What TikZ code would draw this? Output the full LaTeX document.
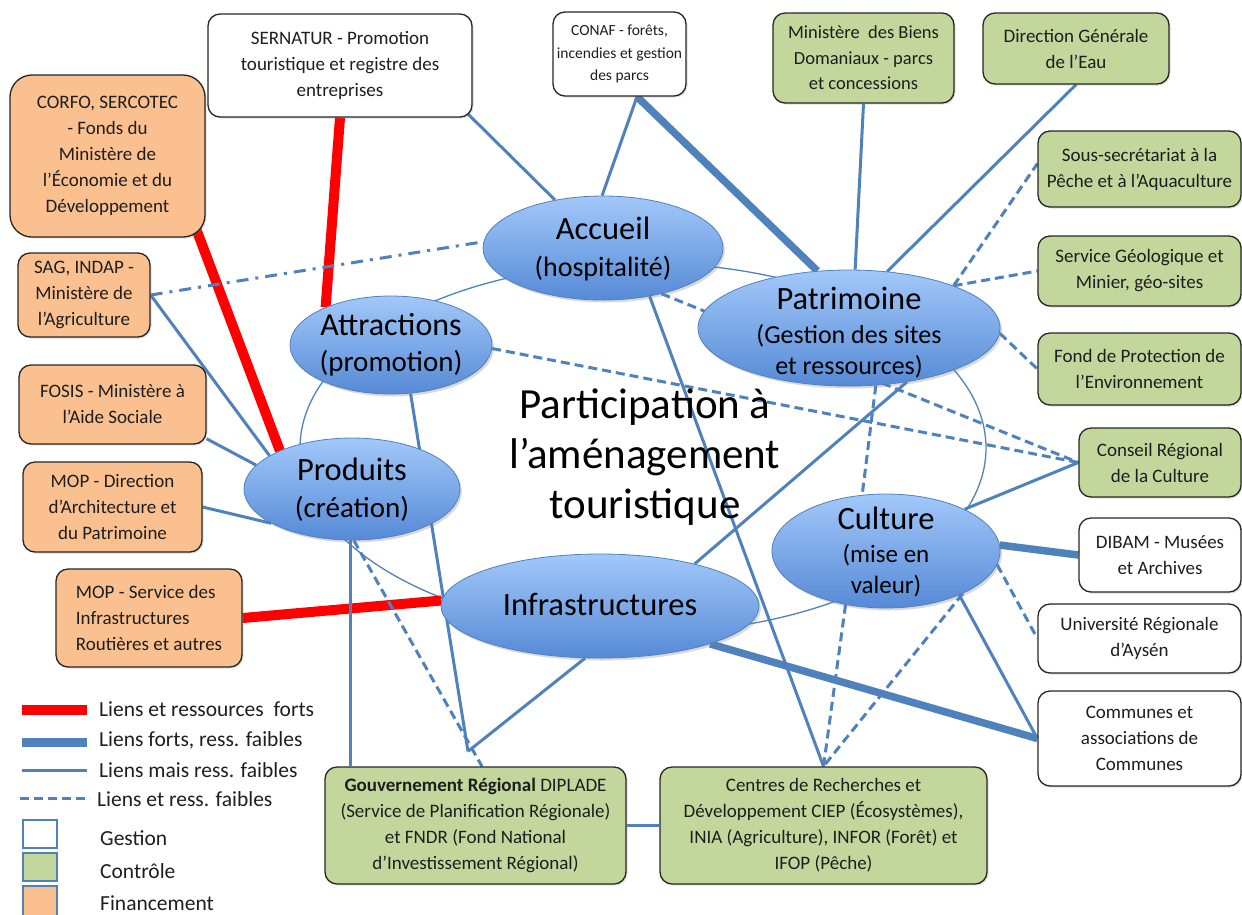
\documentclass[tikz,border=0pt]{standalone}
\usepackage{fontspec}
\setmainfont{Carlito}
\usetikzlibrary{shapes.geometric,shadows,calc}
\pgfdeclarelayer{bg}
\pgfsetlayers{bg,main}
\definecolor{lblue}{RGB}{79,129,189}
\definecolor{orangef}{RGB}{250,192,143}
\definecolor{greenf}{RGB}{195,214,155}
\definecolor{bordc}{RGB}{38,38,38}
\definecolor{txtc}{RGB}{30,30,30}
\definecolor{elltop}{RGB}{162,200,249}
\definecolor{ellbot}{RGB}{86,138,214}
\begin{document}
\begin{tikzpicture}[x=1pt,y=-1pt,
  orgbox/.style={draw=bordc, line width=1.3pt, rounded corners=12pt, align=center,
    inner sep=2pt, text=txtc, font=\fontsize{19}{26}\selectfont,
    drop shadow={opacity=0.25, shadow xshift=1.5pt, shadow yshift=-1.5pt}},
  gestbox/.style={orgbox, fill=white},
  ctrlbox/.style={orgbox, fill=greenf},
  finbox/.style={orgbox, fill=orangef},
  ell/.style={ellipse, draw=lblue, line width=0.8pt, top color=elltop, bottom color=ellbot,
    inner sep=0pt, drop shadow={opacity=0.3, shadow xshift=2pt, shadow yshift=-2.5pt}},
  elltxt/.style={align=center, text=black, inner sep=0pt},
  redl/.style={draw=red, line width=10pt},
  thickl/.style={draw=lblue, line width=7.5pt},
  medl/.style={draw=lblue, line width=3pt},
  dashl/.style={draw=lblue, line width=3pt, dash pattern=on 9pt off 5pt},
  dotl/.style={draw=lblue, line width=3pt, dash pattern=on 12pt off 7pt on 3pt off 7pt},
  ringl/.style={draw=lblue, line width=1.3pt},
  legtext/.style={anchor=west, inner sep=0pt, text=txtc, font=\fontsize{21.5}{25}\selectfont},
  legsq/.style={draw=lblue, line width=2pt, minimum width=34, minimum height=28, inner sep=0pt}
]
\useasboundingbox (0,0) rectangle (1242,914);

% ---------- boxes ----------
\node[finbox, rounded corners=22pt, minimum width=195, minimum height=162] (corfo) at (107.5,156)
  {CORFO, SERCOTEC\\- Fonds du\\Ministère de\\l’Économie et du\\Développement};
\node[finbox, minimum width=132, minimum height=84] (sag) at (84,295)
  {SAG, INDAP -\\Ministère de\\l’Agriculture};
\node[finbox, minimum width=187, minimum height=79] (fosis) at (112.5,404.5)
  {FOSIS - Ministère à\\l’Aide Sociale};
\node[finbox, minimum width=179, minimum height=90] (mopd) at (112.5,507)
  {MOP - Direction\\d’Architecture et\\du Patrimoine};
\node[finbox, align=left, minimum width=186, minimum height=98] (mops) at (149,618)
  {MOP - Service des\\Infrastructures\\Routières et autres};
\node[gestbox, minimum width=264, minimum height=103] (sern) at (340,65.5)
  {SERNATUR - Promotion\\touristique et registre des\\entreprises};
\node[gestbox, font=\fontsize{15.5}{22.5}\selectfont, minimum width=133, minimum height=84] (conaf) at (619.5,54)
  {CONAF - forêts,\\incendies et gestion\\des parcs};
\node[ctrlbox, font=\fontsize{18.5}{25.5}\selectfont, minimum width=181, minimum height=90] (biens) at (863.5,58)
  {Ministère~ des Biens\\Domaniaux - parcs\\et concessions};
\node[ctrlbox, minimum width=186, minimum height=71] (dge) at (1076,48.5)
  {Direction Générale\\de l’Eau};
\node[ctrlbox, minimum width=203, minimum height=76] (sous) at (1139.5,169)
  {Sous-secrétariat à la\\Pêche et à l’Aquaculture};
\node[ctrlbox, minimum width=203, minimum height=70] (geo) at (1139.5,271)
  {Service Géologique et\\Minier, géo-sites};
\node[ctrlbox, minimum width=203, minimum height=72] (fond) at (1139.5,369)
  {Fond de Protection de\\l’Environnement};
\node[ctrlbox, minimum width=162, minimum height=69] (cons) at (1160,462.5)
  {Conseil Régional\\de la Culture};
\node[gestbox, minimum width=162, minimum height=74] (dibam) at (1160,555)
  {DIBAM - Musées\\et Archives};
\node[gestbox, minimum width=203, minimum height=69] (univ) at (1139.5,638.5)
  {Université Régionale\\d’Aysén};
\node[gestbox, minimum width=203, minimum height=95] (comm) at (1139.5,738.5)
  {Communes et\\associations de\\Communes};
\node[ctrlbox, minimum width=301, minimum height=117] (gouv) at (475.5,825.5)
  {\textbf{Gouvernement Régional} DIPLADE\\(Service de Planification Régionale)\\et FNDR (Fond National\\d’Investissement Régional)};
\node[ctrlbox, minimum width=327, minimum height=117] (cent) at (823.5,825.5)
  {Centres de Recherches et\\Développement CIEP (Écosystèmes),\\INIA (Agriculture), INFOR (Forêt) et\\IFOP (Pêche)};

% ---------- ellipses ----------
\node[ell, minimum width=240, minimum height=104] (acc) at (603,248) {};
\node[elltxt, font=\fontsize{28}{37}\selectfont] (accT) at (603,249)
  {{\fontsize{32.5}{37}\selectfont Accueil}\\(hospitalité)};
\node[ell, minimum width=302, minimum height=116] (pat) at (849,328) {};
\node[elltxt, font=\fontsize{26}{31}\selectfont] (patT) at (849,333)
  {{\fontsize{32.5}{31}\selectfont Patrimoine}\\[3pt](Gestion des sites\\et ressources)};
\node[ell, minimum width=202, minimum height=98] (att) at (391,345) {};
\node[elltxt, font=\fontsize{29}{36}\selectfont] (attT) at (391,345)
  {{\fontsize{32}{36}\selectfont Attractions}\\(promotion)};
\node[ell, minimum width=216, minimum height=102] (prod) at (352,489) {};
\node[elltxt, font=\fontsize{29}{37}\selectfont] (prodT) at (352,490)
  {{\fontsize{32.5}{37}\selectfont Produits}\\(création)};
\node[ell, minimum width=318, minimum height=104] (infra) at (600,606) {};
\node[elltxt, font=\fontsize{32.5}{37}\selectfont] (infraT) at (600,604) {Infrastructures};
\node[ell, minimum width=228, minimum height=114] (cult) at (886,551) {};
\node[elltxt, font=\fontsize{25}{31}\selectfont] (cultT) at (886,552)
  {{\fontsize{32.5}{31}\selectfont Culture}\\[2pt](mise en\\valeur)};

% ---------- centre title ----------
\node[align=center, text=black, inner sep=0pt, font=\fontsize{43}{50}\selectfont] (title) at (645,457)
  {Participation à\\l’aménagement\\touristique};

\coordinate (gj) at ([shift={(-7.5,-15)}]gouv.north);

% ---------- connectors ----------
\begin{pgfonlayer}{bg}
  \draw[ringl] (643,448) ellipse [x radius=343, y radius=185];
  % red
  \draw[redl] ([shift={(-10,-10)}]corfo.south east) -- (prod.152);
  \draw[redl] (sern.south) -- (att.150);
  \draw[redl] (mops.east) -- (infra.178);
  % thick blue
  \draw[thickl] ([shift={(17.5,0)}]conaf.south) -- (pat.119);
  \draw[thickl] (infra.-19) -- (comm.west);
  \draw[thickl] (cult.3) -- (dibam.west);
  % medium blue
  \draw[medl] ([shift={(17.5,0)}]conaf.south) -- (acc.91);
  \draw[medl] ([shift={(-5,-4)}]sern.south east) -- (acc.135);
  \draw[medl] (biens.south) -- (pat.84);
  \draw[medl] (dge.south) -- (pat.56);
  \draw[medl] (sag.east) -- (prod.158);
  \draw[medl] (fosis.-20) -- (prod.166);
  \draw[medl] (mopd.east) -- (prod.203);
  \draw[medl] (att.-68) -- (gj);
  \draw[medl] (infra.254) -- (gj);
  \draw[medl] (prod.-92) -- (prod.-92 |- gouv.north);
  \draw[medl] (acc.-46) -- (cent.north);
  \draw[medl] (infra.24) -- (pat.-43);
  \draw[medl] (cult.28) -- (cons.west);
  \draw[medl] (cult.-31) -- (comm.west);
  \draw[medl] (gouv.east) -- (cent.west);
  % dashed
  \draw[dashl] (prod.-88) -- ([shift={(6.5,0)}]gouv.north);
  \draw[dashl] (cult.233) -- (cent.north);
  \draw[dashl] (cult.-29) -- (cent.north);
  \draw[dashl] (pat.-65) -- (cult.113);
  \draw[dashl] (att.-2) -- (cons.west);
  \draw[dashl] (acc.-38) -- (cons.west);
  \draw[dashl] (pat.22) -- (sous.177);
  \draw[dashl] (pat.22) -- (geo.west);
  \draw[dashl] (pat.-2) -- (fond.west);
  \draw[dashl] (cult.-7) -- (univ.west);
  % dash-dot
  \draw[dotl] (sag.east) -- (acc.177);
\end{pgfonlayer}

% ---------- legend ----------
\coordinate (la1) at (22,710); \coordinate (lb1) at (87,710);
\coordinate (la2) at (22,742); \coordinate (lb2) at (87,742);
\coordinate (la3) at (22,770); \coordinate (lb3) at (87,770);
\coordinate (la4) at (20,798); \coordinate (lb4) at (90,798);
\draw[redl] (la1) -- (lb1);
\draw[draw=lblue, line width=9pt] (la2) -- (lb2);
\draw[medl] (la3) -- (lb3);
\draw[dashl] (la4) -- (lb4);
\node[legtext] (lt1) at (99,709) {Liens et ressources~ forts};
\node[legtext] (lt2) at (99,740) {Liens forts, ress. faibles};
\node[legtext] (lt3) at (99,770) {Liens mais ress. faibles};
\node[legtext] (lt4) at (97,799) {Liens et ress. faibles};
\node[legsq, fill=white] (sq1) at (39.5,834) {};
\node[legsq, fill=greenf] (sq2) at (39.5,867) {};
\node[legsq, fill=orangef, minimum height=34] (sq3) at (39.5,903) {};
\node[legtext] (lt5) at (100,838) {Gestion};
\node[legtext] (lt6) at (100,871) {Contrôle};
\node[legtext] (lt7) at (100,903) {Financement};
\end{tikzpicture}
\end{document}
